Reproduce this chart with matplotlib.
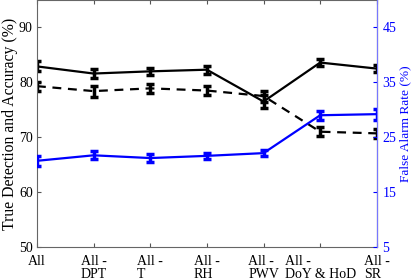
import matplotlib
matplotlib.use("Agg")
import matplotlib.pyplot as plt

plt.rcParams['font.family'] = ['Liberation Serif', 'DejaVu Serif']

categories = ["All", "All -\nDPT", "All -\nT", "All -\nRH", "All -\nPWV", "All -\nDoY & HoD", "All -\nSR"]
true_detection = [82.9, 81.6, 82.0, 82.3, 76.5, 83.6, 82.5]
true_detection_err = [0.9, 0.8, 0.7, 0.7, 1.2, 0.7, 0.7]
accuracy = [79.3, 78.4, 78.9, 78.5, 77.5, 71.0, 70.7]
accuracy_err = [0.8, 1.0, 0.8, 0.8, 1.0, 0.8, 0.8]
false_alarm = [20.7, 21.7, 21.2, 21.6, 22.1, 29.0, 29.2]
false_alarm_err = [0.9, 0.7, 0.7, 0.6, 0.6, 0.8, 1.0]

x = list(range(1, len(categories) + 1))

fig = plt.figure(figsize=(4.15, 2.8), dpi=100)
ax = fig.add_axes([0.089, 0.118, 0.819, 0.882])
ax2 = ax.twinx()

cap = 3
ax.errorbar(x, true_detection, yerr=true_detection_err, color='black', lw=1.6,
            elinewidth=2.5, capsize=cap, capthick=2.5, ls='-')
ax.errorbar(x, accuracy, yerr=accuracy_err, color='black', lw=1.6,
            elinewidth=2.5, capsize=cap, capthick=2.5, ls=(0, (4, 3)))
ax2.errorbar(x, false_alarm, yerr=false_alarm_err, color='blue', lw=1.6,
             elinewidth=2.5, capsize=cap, capthick=2.5, ls='-')

ax.set_xlim(1, 7)
ax.set_ylim(50, 95)
ax.set_yticks([50, 60, 70, 80, 90])
ax2.set_ylim(5, 50)
ax2.set_yticks([5, 15, 25, 35, 45])

ax.set_xticks(x)
ax.set_xticklabels(categories, multialignment='left', linespacing=0.95)

fs = 10
ax.tick_params(axis='x', direction='in', labelsize=fs, length=3, color='#555555', top=True, pad=6)
ax.tick_params(axis='y', direction='in', labelsize=fs, length=3, color='#555555', right=False, pad=3)
ax2.tick_params(axis='y', direction='in', labelsize=fs, length=3, colors='blue', pad=4)
ax.set_ylabel("True Detection and Accuracy (%)", fontsize=11.3, labelpad=1)
ax2.set_ylabel("False Alarm Rate (%)", fontsize=9.6, color='blue', labelpad=2)

for s in ['left', 'bottom', 'top']:
    ax.spines[s].set_color('#666666')
ax2.spines['right'].set_color('#7777ff')
ax2.spines['left'].set_visible(False)
ax2.spines['top'].set_visible(False)
ax2.spines['bottom'].set_visible(False)

fig.savefig("out.png", dpi=100)
